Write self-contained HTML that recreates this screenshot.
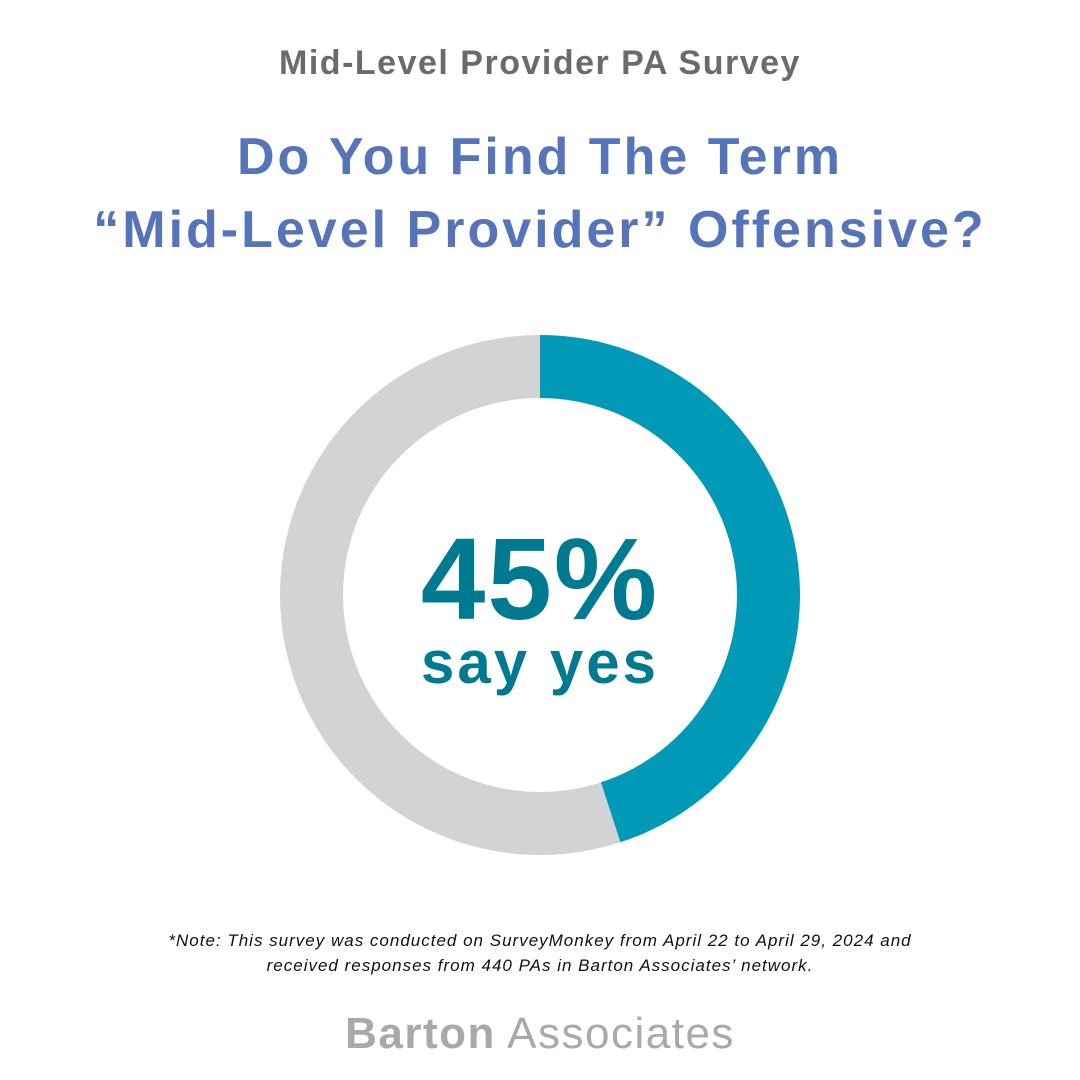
<!DOCTYPE html>
<html><head><meta charset="utf-8"><style>
body{margin:0;width:1080px;height:1080px;background:#fff;font-family:"Liberation Sans",sans-serif;position:relative;overflow:hidden}
.t{position:absolute;left:0;width:1080px;text-align:center;white-space:nowrap}
</style></head><body>
<div class="t" style="top:44px;font-size:34px;font-weight:bold;color:#6b6b6b;letter-spacing:1.5px">Mid-Level Provider PA Survey</div>
<div class="t" style="top:121px;font-size:52px;font-weight:bold;color:#5574b9;line-height:73px;letter-spacing:3px">Do You Find The Term<br>“Mid-Level Provider” Offensive?</div>
<svg id="chart" width="1080" height="1080" style="position:absolute;left:0;top:0"></svg>
<div class="t" style="top:512px;font-size:116px;font-weight:bold;color:#007a91;letter-spacing:2px">45%</div>
<div class="t" style="top:628px;font-size:60px;font-weight:bold;color:#007a91;letter-spacing:3px">say yes</div>
<div class="t" style="top:928px;font-size:17px;font-style:italic;color:#111;line-height:25px;letter-spacing:1px">*Note: This survey was conducted on SurveyMonkey from April 22 to April 29, 2024 and<br>received responses from 440 PAs in Barton Associates’ network.</div>
<div class="t" style="top:1009px;font-size:44px;color:#a9a9a9;letter-spacing:1.5px"><b>Barton</b> Associates</div>
<script>
const categories=["Yes","No"];
const values=[45,55];
const colors=["#0099b8","#d1d3d4"];
const svg=document.getElementById('chart');
const cx=540,cy=595,R=260,r=197;
const total=values.reduce((a,b)=>a+b,0);
function pt(a,rad){return [cx+rad*Math.sin(a),cy-rad*Math.cos(a)];}
let start=0;
values.forEach((v,i)=>{
  const end=start+v/total*2*Math.PI;
  const large=(end-start)>Math.PI?1:0;
  const [x1,y1]=pt(start,R),[x2,y2]=pt(end,R),[x3,y3]=pt(end,r),[x4,y4]=pt(start,r);
  const p=document.createElementNS('http://www.w3.org/2000/svg','path');
  p.setAttribute('d',`M${x1},${y1}A${R},${R} 0 ${large} 1 ${x2},${y2}L${x3},${y3}A${r},${r} 0 ${large} 0 ${x4},${y4}Z`);
  p.setAttribute('fill',colors[i]);
  
  
  svg.appendChild(p);
  start=end;
});
</script>
</body></html>
